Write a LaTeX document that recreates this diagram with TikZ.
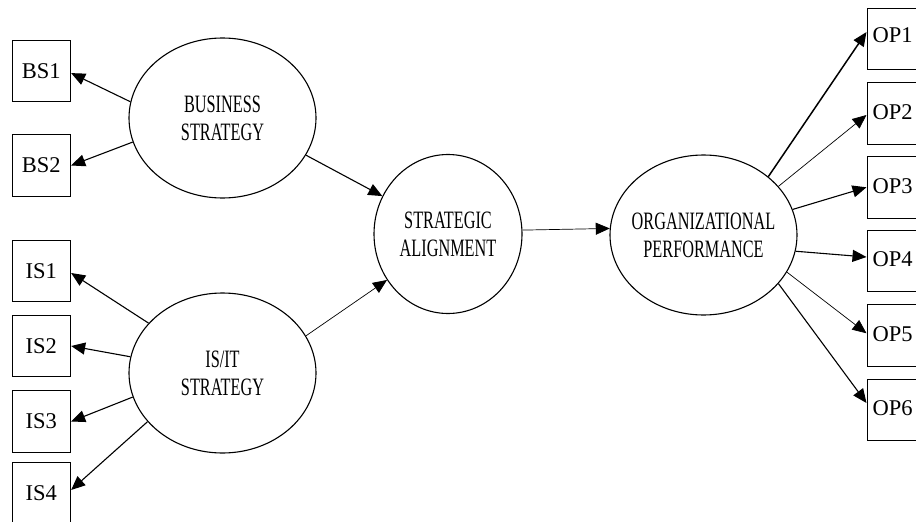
\documentclass[tikz,border=0pt]{standalone}
\usepackage{fontspec}
\setmainfont{Liberation Serif}
\usetikzlibrary{arrows.meta,calc,shapes.geometric}
\newcommand{\cond}[1]{\scalebox{0.65}[1]{#1}}
\begin{document}
\begin{tikzpicture}[x=1pt,y=-1pt,
  box/.style={draw,line width=0.9pt,minimum width=58.7pt,minimum height=61.5pt,inner sep=0pt,font=\fontsize{22.5}{26}\selectfont},
  lat/.style={draw,ellipse,line width=1.1pt,inner xsep=-15pt,inner ysep=0pt,align=center,font=\fontsize{25}{28}\selectfont},
  arr/.style={line width=1.1pt,-{Triangle[length=14pt,width=12pt]}},
  thinarr/.style={arr,line width=0.7pt},
  lab/.style={font=\fontsize{22.5}{26}\selectfont,inner sep=0pt,anchor=base west}]
\useasboundingbox (0,0) rectangle (916,522);
\clip (0,0) rectangle (916,522);
% latent constructs
\node[lat,minimum width=187pt,minimum height=160pt] (bs) at (222.5,118) {\cond{BUSINESS}\\\cond{STRATEGY}};
\node[lat,minimum width=187pt,minimum height=160pt] (is) at (222.5,373) {\cond{IS/IT}\\\cond{STRATEGY}};
\node[lat,minimum width=148pt,minimum height=159pt] (sa) at (448,234) {\cond{STRATEGIC}\\\cond{ALIGNMENT}};
\node[lat,minimum width=187pt,minimum height=160pt] (op) at (703.5,235) {\cond{ORGANIZATIONAL}\\\cond{PERFORMANCE}};
% left indicators
\node[box] (bs1) at (41.35,70.8) {BS1};
\node[box] (bs2) at (41.35,165.5) {BS2};
\node[box] (is1) at (41.35,271) {IS1};
\node[box] (is2) at (41.35,346) {IS2};
\node[box] (is3) at (41.35,421.5) {IS3};
\node[box] (is4) at (41.35,493.5) {IS4};
% right indicators
\node[box] (op1) at (896.3,39) {};
\node[box] (op2) at (896.3,113.3) {};
\node[box] (op3) at (896.3,187.3) {};
\node[box] (op4) at (896.3,261) {};
\node[box] (op5) at (896.3,335.3) {};
\node[box] (op6) at (896.3,410) {};
\node[lab] (op1t) at ($(op1.north west)+(6,35)$) {OP1};
\node[lab] (op2t) at ($(op2.north west)+(6,37)$) {OP2};
\node[lab] (op3t) at ($(op3.north west)+(6,37)$) {OP3};
\node[lab] (op4t) at ($(op4.north west)+(6,37)$) {OP4};
\node[lab] (op5t) at ($(op5.north west)+(6,37)$) {OP5};
\node[lab] (op6t) at ($(op6.north west)+(6,37)$) {OP6};
% connectors
\draw[arr] (bs.170) -- ($(bs1.east)+(0,2.3)$);
\draw[arr] (bs.195.6) -- (bs2.east);
\draw[arr] (bs.336) -- (sa.150.3);
\draw[arr] (is.146.1) -- ($(is1.east)+(0,2)$);
\draw[arr] (is.170.3) -- (is2.east);
\draw[arr] (is.195.6) -- (is3.east);
\draw[arr] (is.213.2) -- ($(is4.east)+(0,-3.5)$);
\draw[thinarr] (is.24.7) -- (sa.217.9);
\draw[thinarr] (sa.3.1) -- (op.176.9);
\draw[arr,line width=1.5pt] (op.42.9) -- ($(op1.west)+(0,-7)$);
\draw[thinarr] (op.33.9) -- ($(op2.west)+(0,1.7)$);
\draw[arr] (op.16.8) -- (op3.west);
\draw[arr] (op.-10.3) -- ($(op4.west)+(0,-4)$);
\draw[thinarr] (op.-24.2) -- ($(op5.west)+(0,-2)$);
\draw[arr] (op.-33.9) -- ($(op6.west)+(0,-7)$);
\end{tikzpicture}
\end{document}
